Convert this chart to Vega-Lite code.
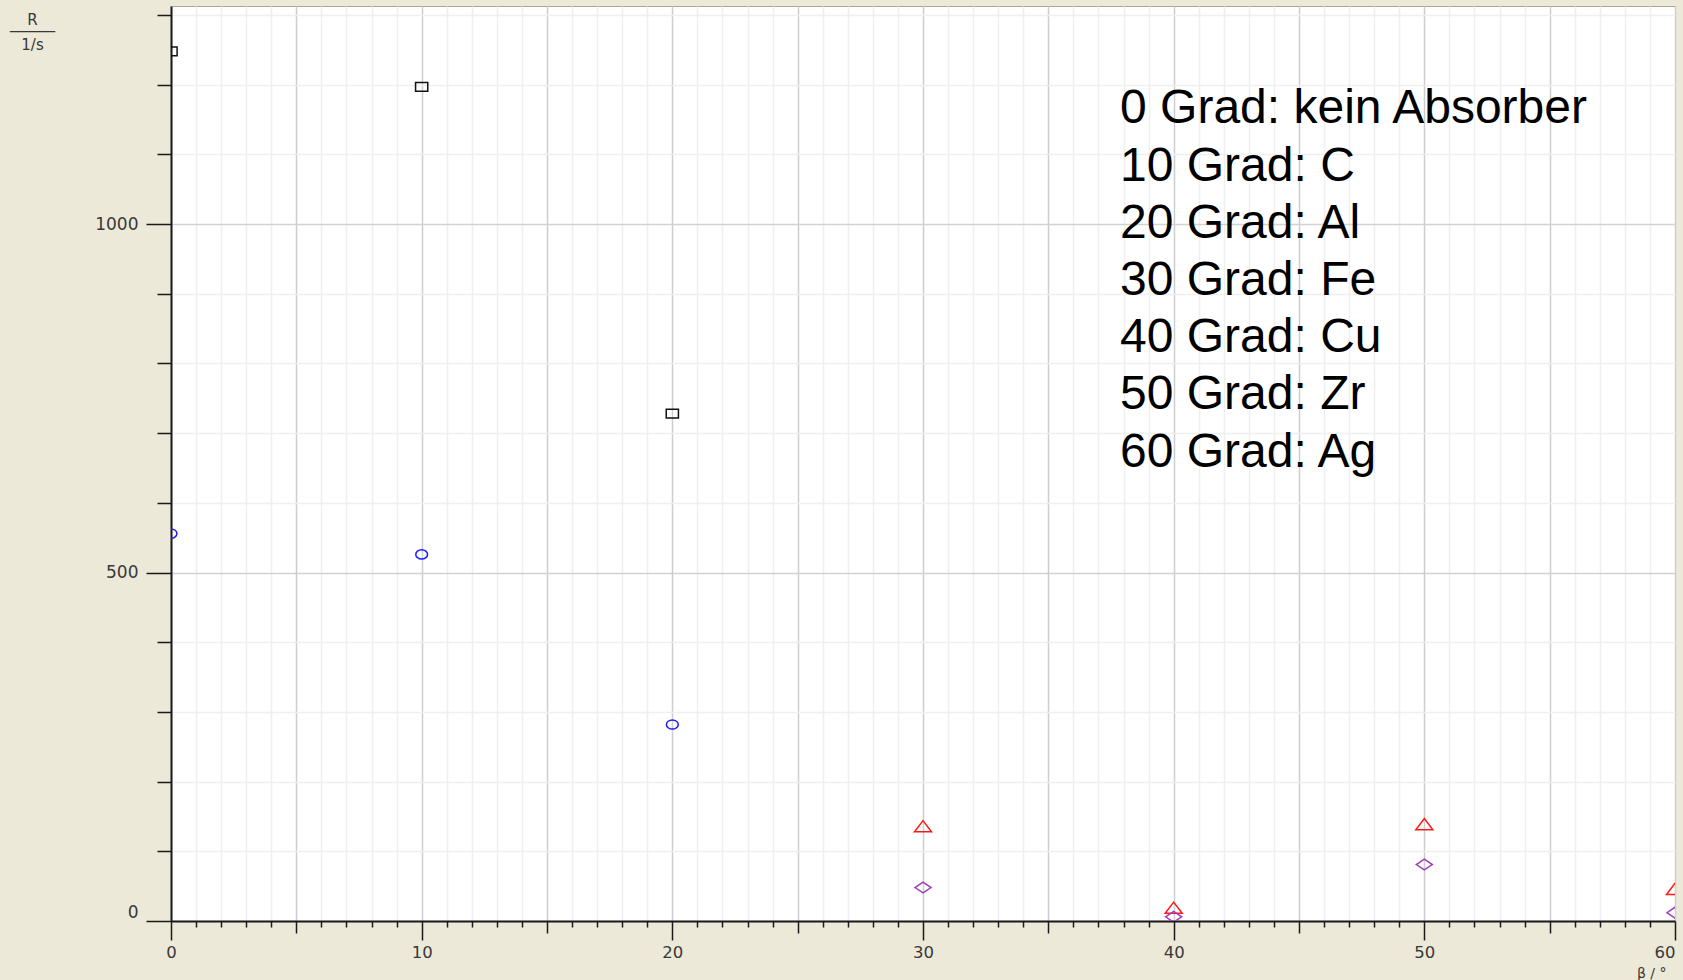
{
  "$schema": "https://vega.github.io/schema/vega-lite/v6.json",
  "width": 1504,
  "height": 915,
  "autosize": {"type": "none"},
  "padding": {"left": 171, "top": 6, "right": 8, "bottom": 59},
  "background": "#ECE9D8",
  "config": {
    "view": {"fill": "white", "stroke": "#aca899", "strokeWidth": 1}
  },
  "layer": [
    {
      "data": {
        "values": [
          {"beta": 0, "R": 1248, "series": "A"},
          {"beta": 10, "R": 1197, "series": "A"},
          {"beta": 20, "R": 728, "series": "A"},
          {"beta": 0, "R": 556, "series": "B"},
          {"beta": 10, "R": 526, "series": "B"},
          {"beta": 20, "R": 282, "series": "B"},
          {"beta": 30, "R": 136, "series": "C"},
          {"beta": 40, "R": 19, "series": "C"},
          {"beta": 50, "R": 139, "series": "C"},
          {"beta": 60, "R": 46, "series": "C"},
          {"beta": 30, "R": 48, "series": "D"},
          {"beta": 40, "R": 6, "series": "D"},
          {"beta": 50, "R": 81, "series": "D"},
          {"beta": 60, "R": 12, "series": "D"}
        ]
      },
      "mark": {"type": "point", "clip": true, "filled": false, "strokeWidth": 1.5, "size": 400, "opacity": 1},
      "encoding": {
        "x": {
          "field": "beta",
          "type": "quantitative",
          "scale": {"domain": [0, 60], "nice": false, "zero": false},
          "axis": {
            "values": [0,1,2,3,4,5,6,7,8,9,10,11,12,13,14,15,16,17,18,19,20,21,22,23,24,25,26,27,28,29,30,31,32,33,34,35,36,37,38,39,40,41,42,43,44,45,46,47,48,49,50,51,52,53,54,55,56,57,58,59,60],
            "tickCount": 200,
            "grid": true,
            "gridColor": {"condition": {"test": "datum.value % 5 === 0", "value": "#cdcdcd"}, "value": "#efefef"},
            "gridWidth": 1.5,
            "tickSize": {"condition": [{"test": "datum.value % 10 === 0", "value": 19}, {"test": "datum.value % 5 === 0", "value": 12}], "value": 6},
            "tickColor": "#1a1a1a",
            "tickWidth": 1.5,
            "domainColor": "#1a1a1a",
            "domainWidth": 2,
            "format": "d",
            "labelExpr": "datum.value % 10 === 0 ? datum.label : ''",
            "labelFlush": false,
            "labelOverlap": false,
            "labelAlign": {"condition": {"test": "datum.value === 60", "value": "right"}, "value": "center"},
            "labelBaseline": "top",
            "labelPadding": 4,
            "labelFont": "DejaVu Sans",
            "labelFontSize": 16.5,
            "labelColor": "#383838",
            "title": "β / °",
            "titleFont": "DejaVu Sans",
            "titleFontSize": 14,
            "titleFontWeight": "normal",
            "titleColor": "#383838",
            "titleAnchor": "end",
            "titleAlign": "right",
            "titleBaseline": "middle",
            "titleX": 1495,
            "titleY": 52
          }
        },
        "y": {
          "field": "R",
          "type": "quantitative",
          "scale": {"domain": [0, 1313], "nice": false},
          "axis": {
            "values": [0,100,200,300,400,500,600,700,800,900,1000,1100,1200,1300],
            "tickCount": 100,
            "grid": true,
            "gridColor": {"condition": {"test": "datum.value % 500 === 0", "value": "#d2d2d2"}, "value": "#efefef"},
            "gridWidth": 1.5,
            "tickSize": {"condition": {"test": "datum.value % 500 === 0", "value": 25}, "value": 14},
            "tickColor": "#1a1a1a",
            "tickWidth": 1.5,
            "domainColor": "#1a1a1a",
            "domainWidth": 2,
            "format": "d",
            "labelExpr": "datum.value % 500 === 0 ? datum.label : ''",
            "labelFlush": false,
            "labelOverlap": false,
            "labelBaseline": {"condition": {"test": "datum.value === 0", "value": "bottom"}, "value": "middle"},
            "labelPadding": 8,
            "labelFont": "DejaVu Sans",
            "labelFontSize": 17,
            "labelColor": "#383838",
            "title": ["R", "─────", "1/s"],
            "titleAngle": 0,
            "titleX": -139,
            "titleY": 6,
            "titleAlign": "center",
            "titleBaseline": "top",
            "titleLineHeight": 12.5,
            "titleFont": "DejaVu Sans",
            "titleFontSize": 15,
            "titleFontWeight": "normal",
            "titleColor": "#383838"
          }
        },
        "shape": {
          "field": "series",
          "type": "nominal",
          "scale": {
            "domain": ["A", "B", "C", "D"],
            "range": [
              "M-0.61 -0.44H0.61V0.44H-0.61Z",
              "M-0.59 0A0.59 0.46 0 1 0 0.59 0A0.59 0.46 0 1 0 -0.59 0Z",
              "M0 -0.56L0.85 0.56L-0.85 0.56Z",
              "M0 -0.54L0.8 0L0 0.54L-0.8 0Z"
            ]
          },
          "legend": null
        },
        "color": {
          "field": "series",
          "type": "nominal",
          "scale": {"domain": ["A", "B", "C", "D"], "range": ["#111111", "#1a1aff", "#ff1a1a", "#a040b8"]},
          "legend": null
        }
      }
    },
    {
      "data": {
        "values": [
          {"angle": 0, "label": "0 Grad: kein Absorber"},
          {"angle": 10, "label": "10 Grad: C"},
          {"angle": 20, "label": "20 Grad: Al"},
          {"angle": 30, "label": "30 Grad: Fe"},
          {"angle": 40, "label": "40 Grad: Cu"},
          {"angle": 50, "label": "50 Grad: Zr"},
          {"angle": 60, "label": "60 Grad: Ag"}
        ]
      },
      "mark": {"type": "text", "align": "left", "baseline": "alphabetic", "font": "Liberation Sans", "fontSize": 48, "color": "#000000"},
      "encoding": {
        "x": {"datum": 37.86, "type": "quantitative"},
        "y": {"field": "angle", "type": "ordinal", "scale": {"type": "point", "range": [117.3, 460.5], "padding": 0}, "axis": null},
        "text": {"field": "label", "type": "nominal"}
      }
    }
  ],
  "resolve": {"scale": {"y": "independent"}}
}
